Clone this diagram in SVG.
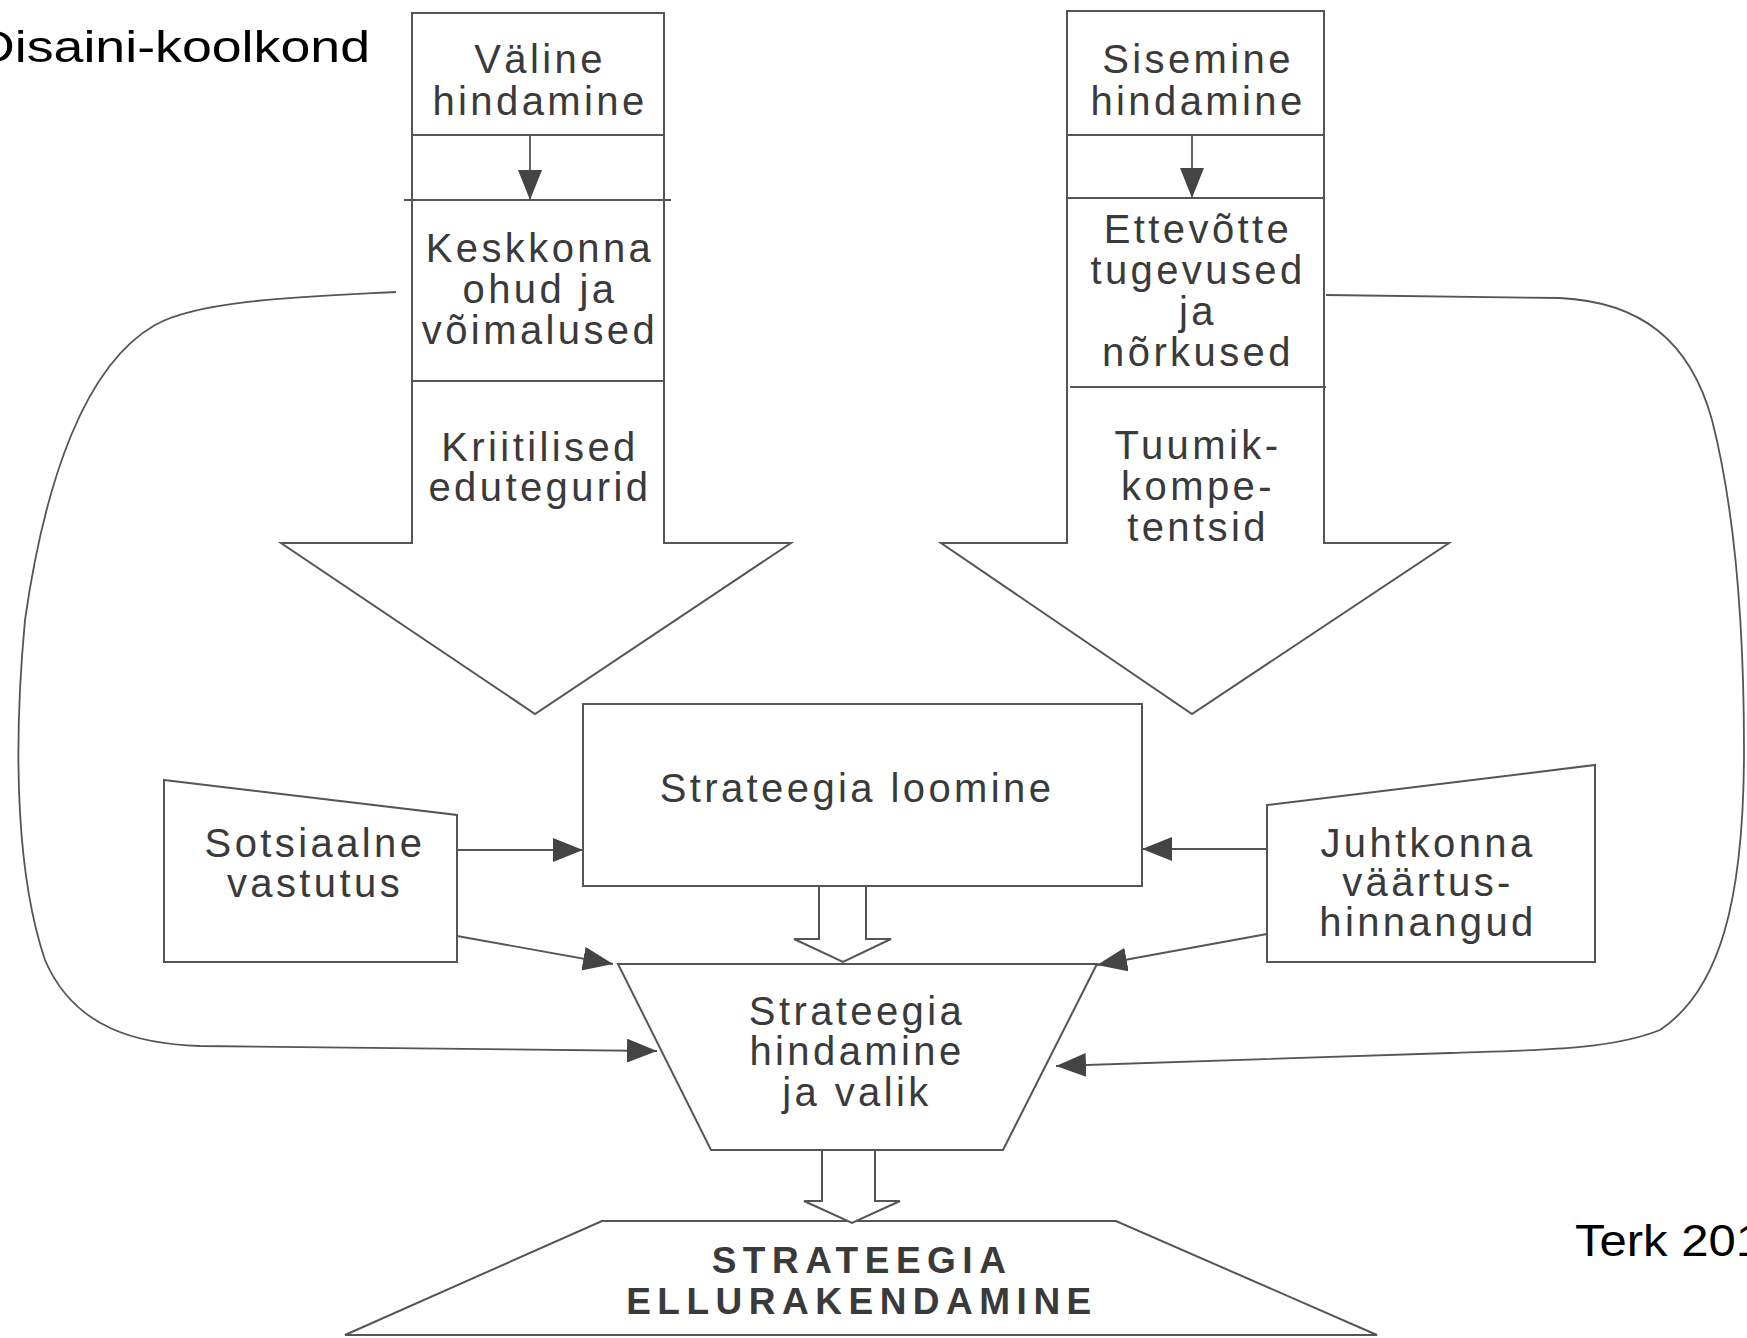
<svg xmlns="http://www.w3.org/2000/svg" width="1747" height="1338" viewBox="0 0 1747 1338">
<defs>
<style>
.shape{fill:#fff;stroke:#555;stroke-width:2;}
.div{stroke:#555;stroke-width:2;fill:none;}
.con{stroke:#555;stroke-width:1.8;fill:none;}
.t{font-family:"Liberation Sans",Arial,sans-serif;font-size:40px;letter-spacing:3.4px;fill:#3a3a3a;text-anchor:middle;}
.tb{font-family:"Liberation Sans",Arial,sans-serif;font-size:37px;font-weight:bold;letter-spacing:6.5px;fill:#3a3a3a;text-anchor:middle;}
.cap{font-family:"Liberation Sans",Arial,sans-serif;font-size:44px;fill:#000;}
</style>
<marker id="ah" markerUnits="userSpaceOnUse" markerWidth="32" markerHeight="24" refX="30" refY="12" orient="auto">
<path d="M0,0 L30,12 L0,24 Z" fill="#444"/>
</marker>
</defs>
<rect width="1747" height="1338" fill="#fff"/>
<text class="cap" x="-24" y="62" textLength="394" lengthAdjust="spacingAndGlyphs">Disaini-koolkond</text>
<text class="cap" x="1575" y="1256" textLength="188" lengthAdjust="spacingAndGlyphs">Terk 201</text>

<g id="valine">
<path class="shape" d="M412,13 H664 V543 H791 L535,714 L281,543 H412 Z"/>
<line class="div" x1="412" y1="135" x2="664" y2="135"/>
<line class="div" x1="404" y1="200" x2="671" y2="200"/>
<line class="div" x1="412" y1="381" x2="664" y2="381"/>
<text class="t" x="540" y="73">Väline</text>
<text class="t" x="540" y="115">hindamine</text>
<text class="t" x="540" y="262">Keskkonna</text>
<text class="t" x="540" y="303">ohud ja</text>
<text class="t" x="540" y="344">võimalused</text>
<text class="t" x="540" y="461">Kriitilised</text>
<text class="t" x="540" y="501">edutegurid</text>
</g>

<g id="sisemine">
<path class="shape" d="M1067,11 H1324 V543 H1449 L1192,714 L941,543 H1067 Z"/>
<line class="div" x1="1067" y1="135" x2="1324" y2="135"/>
<line class="div" x1="1067" y1="198" x2="1324" y2="198"/>
<line class="div" x1="1070" y1="387" x2="1326" y2="387"/>
<text class="t" x="1198" y="73">Sisemine</text>
<text class="t" x="1198" y="115">hindamine</text>
<text class="t" x="1198" y="243">Ettevõtte</text>
<text class="t" x="1198" y="284">tugevused</text>
<text class="t" x="1198" y="325">ja</text>
<text class="t" x="1198" y="366">nõrkused</text>
<text class="t" x="1198" y="459">Tuumik-</text>
<text class="t" x="1198" y="500">kompe-</text>
<text class="t" x="1198" y="541">tentsid</text>
</g>

<g id="loomine">
<rect class="shape" x="583" y="704" width="559" height="182"/>
<text class="t" x="857" y="802">Strateegia loomine</text>
</g>

<g id="sotsiaalne">
<path class="shape" d="M164,780 L457,815 V962 H164 Z"/>
<text class="t" x="315" y="857">Sotsiaalne</text>
<text class="t" x="315" y="897">vastutus</text>
</g>

<g id="juhtkonna">
<path class="shape" d="M1267,805 L1595,765 V962 H1267 Z"/>
<text class="t" x="1428" y="857">Juhtkonna</text>
<text class="t" x="1428" y="896">väärtus-</text>
<text class="t" x="1428" y="936">hinnangud</text>
</g>

<g id="hindamine-valik">
<path class="shape" d="M618,964 H1097 L1003,1150 H711 Z"/>
<text class="t" x="857" y="1025">Strateegia</text>
<text class="t" x="857" y="1065">hindamine</text>
<text class="t" x="857" y="1106">ja valik</text>
</g>

<g id="ellurakendamine">
<path class="shape" d="M602,1221 H1116 L1377,1335 H345 Z"/>
<text class="tb" x="862" y="1273">STRATEEGIA</text>
<text class="tb" x="862" y="1314">ELLURAKENDAMINE</text>
</g>

<g id="connectors">
<line class="con" x1="530" y1="135" x2="530" y2="200" marker-end="url(#ah)"/>
<line class="con" x1="1192" y1="135" x2="1192" y2="198" marker-end="url(#ah)"/>
<path class="shape" d="M819,886 H866 V939 H891 L843,962 L794,939 H819 Z"/>
<path class="shape" d="M822,1150 H875 V1201 H900 L852,1223 L804,1201 H822 Z"/>
<line class="con" x1="457" y1="850" x2="583" y2="850" marker-end="url(#ah)"/>
<line class="con" x1="1267" y1="849" x2="1142" y2="849" marker-end="url(#ah)"/>
<line class="con" x1="457" y1="936" x2="613" y2="964" marker-end="url(#ah)"/>
<line class="con" x1="1267" y1="934" x2="1097" y2="965" marker-end="url(#ah)"/>
<path class="con" d="M396,292 C300,297 200,300 155,325 C85,365 45,480 25,620 C12,760 18,880 45,960 C75,1030 140,1044 200,1046 L657,1051" marker-end="url(#ah)"/>
<path class="con" d="M1326,295 L1560,298 C1640,302 1690,340 1712,420 C1735,510 1744,620 1744,750 C1744,900 1720,990 1660,1030 C1610,1050 1540,1050 1450,1053 L1056,1066" marker-end="url(#ah)"/>
</g>
</svg>
